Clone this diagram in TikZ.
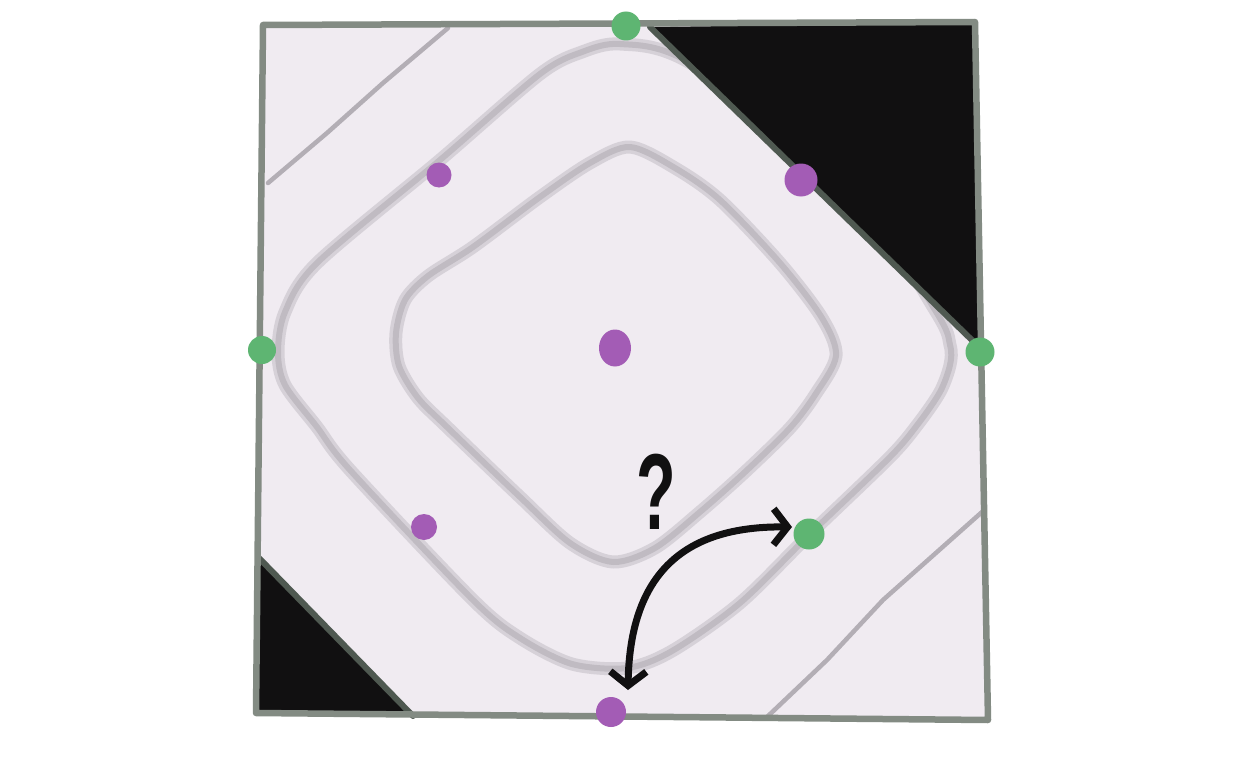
\documentclass[tikz,border=0pt]{standalone}
\usepackage{fontspec}
\setmainfont{Liberation Sans}
\usetikzlibrary{arrows.meta,shapes.geometric}
\definecolor{paper}{HTML}{F0EBF1}
\definecolor{frame}{HTML}{838B83}
\definecolor{frameD}{HTML}{4F5951}
\definecolor{ink}{HTML}{111011}
\definecolor{contA}{HTML}{D6D1D8}
\definecolor{contB}{HTML}{C0BBC2}
\definecolor{hatchc}{HTML}{B3AEB5}
\definecolor{gdot}{HTML}{5EB572}
\definecolor{pdot}{HTML}{A35CB5}
\begin{document}
\begin{tikzpicture}[x=1pt,y=-1pt,
  contourwide/.style={line width=13pt, contA, line cap=round, line join=round},
  contourcore/.style={line width=6pt, contB, line cap=round, line join=round},
  hatchline/.style={line width=4.5pt, hatchc, line cap=round, line join=round},
  gdotstyle/.style={circle, fill=gdot, inner sep=0pt, minimum size=#1},
  pdotstyle/.style={circle, fill=pdot, inner sep=0pt, minimum size=#1},
  blackcorner/.style={fill=ink},
  cornerline/.style={line width=6pt, frameD, line cap=round},
  barrow/.style={line width=7pt, ink, line cap=round,
    {Straight Barb[length=14pt,width=36pt]}-{Straight Barb[length=14pt,width=36pt]}}
]
\useasboundingbox (0,0) rectangle (1248,768);
\fill[white] (0,0) rectangle (1248,768);

% paper
\fill[paper] (263,25) -- (975,22) -- (988,720) -- (256,713) -- cycle;

% straight level lines in the corners
\draw[hatchline] (268,183) -- (327,133) -- (383,83) -- (448,28);
\draw[hatchline] (767,717) -- (827,660) -- (883,600) -- (982,512);

% contours
\foreach \s in {contourwide,contourcore}{
\draw[\s] plot[smooth cycle, tension=0.5] coordinates {
 (620,44) (685,60) (835,160) (935,310) (950,345) (950,365) (940,392) (918,424) (890,457)
 (810,534) (740,603) (672,651) (627,668) (572,664) (520,638) (473,600) (350,470)
 (317,427) (285,385) (278,352) (285,312) (317,263) (440,160) (540,74) (582,52)};
\draw[\s] plot[smooth cycle, tension=0.5] coordinates {
 (630,147) (675,168) (720,200) (780,263) (822,318) (836,356) (815,395) (790,428)
 (745,472) (700,512) (655,548) (613,562) (570,543) (520,497) (447,427) (418,398) (399,366)
 (396,333) (405,300) (428,276) (473,247) (540,197) (590,163)};
}

% black corners
\fill[blackcorner] (650,27) -- (975,23) -- (978,346) -- cycle;
\draw[cornerline] (650,27) -- (978,346);
\fill[blackcorner] (258,557) -- (257,713) -- (413,716) -- cycle;
\draw[cornerline] (258,557) -- (413,716);

% frame
\draw[frame, line width=6.5pt, line join=round] (263,25) -- (975,22) -- (988,720) -- (256,713) -- cycle;

% dots
\node[gdotstyle=29pt] (gtop) at (626,26) {};
\node[gdotstyle=28pt] (gleft) at (262,350) {};
\node[gdotstyle=29pt] (gright) at (980,352) {};
\node[gdotstyle=31pt] (gmid) at (809,534) {};
\node[pdotstyle=25pt] (ptl) at (439,175) {};
\node[pdotstyle=33pt] (ptr) at (801,180) {};
\node[ellipse, fill=pdot, inner sep=0pt, minimum width=32pt, minimum height=37pt] (pc) at (615,348) {};
\node[pdotstyle=26pt] (pbl) at (424,527) {};
\node[pdotstyle=30pt] (pb) at (611,712) {};

% arrow
\coordinate (abot) at (628,690);
\coordinate (aright) at (792,527);
\draw[barrow] (abot) .. controls (630,566) and (692,526) .. (aright);

% question mark
\node[font=\fontsize{108}{108}\selectfont\bfseries, xscale=0.6, text=ink, inner sep=0pt] (q) at (656,492) {?};
\end{tikzpicture}
\end{document}
